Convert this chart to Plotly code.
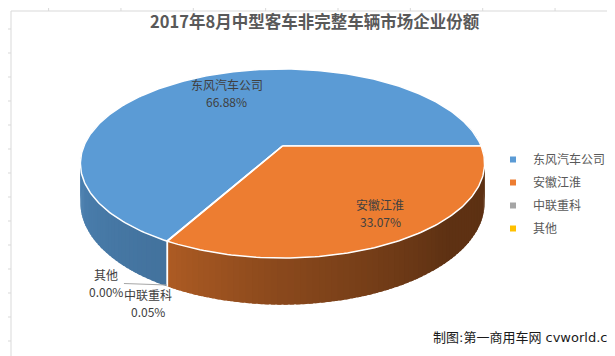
import numpy as np
import plotly.graph_objects as go

# ---------------- data ----------------
companies = ["东风汽车公司", "安徽江淮", "中联重科", "其他"]
shares = [66.88, 33.07, 0.05, 0.00]          # percent
title_text = "2017年8月中型客车非完整车辆市场企业份额"
credit_text = "制图:第一商用车网 cvworld.cn"

# ---------------- style ----------------
W, H = 615, 356
FONT = "Noto Sans CJK SC, Noto Sans, sans-serif"
CREDIT_FONT = "DejaVu Sans, Noto Sans CJK SC, sans-serif"
top_colors = ["#5B9BD5", "#ED7D31", "#A5A5A5", "#FFC000"]
CX, CY = 274.5, 138.0      # pie apex (pixels)
AX, BY = 198.6, 91.3       # pie radii on screen
P = 0.185                  # perspective strength
THICK = 38.0               # pie thickness
FIRST_SLICE_DEG = 119.2    # angle of first slice (clockwise from 3 o'clock)
LABEL_R = [0.61, 0.84]     # radius of inside labels for big slices
GRID = "#D9D9D9"
TDY = -9.0                 # vertical text correction for the CJK font metrics


def proj(r, deg, drop=0.0):
    t = np.radians(deg)
    u = r * np.cos(t)
    v = r * np.sin(t)
    d = 1 - P * v
    return CX + AX * u / d, CY + BY * v / d + drop / d


def shade(hex_color, f):
    h = hex_color.lstrip("#")
    r, g, b = (int(h[i:i + 2], 16) for i in (0, 2, 4))
    return "rgb(%d,%d,%d)" % (r * f, g * f, b * f)


def wall_factor(deg):
    a = ((deg + 90) % 360) - 90
    return float(np.interp(a, [-90, 0, 45, 90, 120, 180, 270],
                           [0.39, 0.39, 0.40, 0.58, 0.74, 0.85, 0.85]))


total = sum(shares)
starts, ends = [], []
a = FIRST_SLICE_DEG
for s in shares:
    starts.append(a)
    a += 360.0 * s / total
    ends.append(a)

fig = go.Figure()

# ---- side walls (sorted back to front) ----
segments = []
for i, s in enumerate(shares):
    span = ends[i] - starts[i]
    if span <= 0:
        continue
    n = max(1, int(np.ceil(span / 1.5)))
    angs = np.linspace(starts[i], ends[i], n + 1)
    for k in range(n):
        a0, a1 = angs[k], angs[k + 1]
        mid = 0.5 * (a0 + a1)
        if np.sin(np.radians(mid)) < -0.35:
            continue
        # small overlap inside the slice to hide seams
        b0 = max(starts[i], a0 - 0.5)
        b1 = min(ends[i], a1 + 0.5)
        segments.append((np.sin(np.radians(mid)), i, b0, b1, mid))
segments.sort(key=lambda t: t[0])
for _, i, a0, a1, mid in segments:
    x0, y0 = proj(1, a0)
    x1, y1 = proj(1, a1)
    x2, y2 = proj(1, a1, THICK)
    x3, y3 = proj(1, a0, THICK)
    col = shade(top_colors[i], wall_factor(mid))
    fig.add_trace(go.Scatter(x=[x0, x1, x2, x3, x0], y=[y0, y1, y2, y3, y0],
                             mode="none", fill="toself", fillcolor=col,
                             hoverinfo="skip", showlegend=False))

# white edges on the wall at visible slice boundaries
for i, s in enumerate(shares):
    if s <= 0:
        continue
    ang = starts[i]
    if np.sin(np.radians(ang)) > 0.2:
        xa, ya = proj(1, ang)
        xb, yb = proj(1, ang, THICK)
        fig.add_trace(go.Scatter(x=[xa, xb], y=[ya, yb], mode="lines",
                                 line=dict(color="white", width=1.2),
                                 hoverinfo="skip", showlegend=False))

# ---- top face ----
for i, s in enumerate(shares):
    span = ends[i] - starts[i]
    if span <= 0:
        continue
    angs = np.linspace(starts[i], ends[i], max(2, int(np.ceil(span)) + 1))
    xs, ys = proj(1, angs)
    fig.add_trace(go.Scatter(x=[CX] + list(xs) + [CX], y=[CY] + list(ys) + [CY],
                             mode="lines", fill="toself", fillcolor=top_colors[i],
                             line=dict(color="white", width=1.5),
                             hoverinfo="skip", showlegend=False))

# ---- legend entries ----
for i, name in enumerate(companies):
    fig.add_trace(go.Scatter(x=[None], y=[None], mode="markers", name=name,
                             legendgroup=name,
                             marker=dict(symbol="square", size=6, color=top_colors[i])))


def label(x, y, text, size=12, color="#404040", **kw):
    return dict(x=x, y=y + TDY, text=text, showarrow=False,
                font=dict(size=size, color=color, family=kw.pop("family", FONT)), **kw)


annotations = []
# big slice labels
for i in range(2):
    mid = 0.5 * (starts[i] + ends[i])
    lx, ly = proj(LABEL_R[i], mid)
    annotations.append(label(lx, ly - 8.5, companies[i]))
    annotations.append(label(lx, ly + 8.5, "%.2f%%" % shares[i]))

# small slice labels (outside, near lower-left)
mid2 = 0.5 * (starts[2] + ends[2])
mid3 = 0.5 * (starts[3] + ends[3])
ax2, ay2 = proj(1, mid2, THICK)
ax3, ay3 = proj(1, mid3, THICK * 0.97)
annotations.append(label(ax2 - 19, ay2 + 17, companies[2]))
annotations.append(label(ax2 - 19, ay2 + 34, "%.2f%%" % shares[2]))
annotations.append(label(ax3 - 61, ay3 - 2, companies[3]))
annotations.append(label(ax3 - 61, ay3 + 15, "%.2f%%" % shares[3]))
fig.add_trace(go.Scatter(x=[ax3 - 43, ax3], y=[ay3 - 1.5, ay3], mode="lines",
                         line=dict(color="#A6A6A6", width=1),
                         hoverinfo="skip", showlegend=False))

# title and credit
annotations.append(label(307, 22, "<b>%s</b>" % title_text, size=16.5, color="#595959"))
annotations.append(label(610, 338, credit_text, size=13, color="#1A1A1A",
                         family=CREDIT_FONT, xanchor="right",
                         bgcolor="white", borderpad=1))

# ---- spreadsheet background grid + chart border ----
shapes = [dict(type="rect", x0=3, y0=3, x1=611, y1=349, xref="x", yref="y",
               line=dict(color=GRID, width=1), fillcolor="rgba(0,0,0,0)", layer="below")]
for k in range(8):
    gx = 40.6 + 72.35 * k
    shapes.append(dict(type="line", x0=gx, x1=gx, y0=0, y1=3, xref="x", yref="y",
                       line=dict(color=GRID, width=1), layer="below"))
    shapes.append(dict(type="line", x0=gx, x1=gx, y0=349, y1=356, xref="x", yref="y",
                       line=dict(color=GRID, width=1), layer="below"))
for k in range(14):
    gy = 21 + 24 * k
    shapes.append(dict(type="line", x0=0, x1=3, y0=gy, y1=gy, xref="x", yref="y",
                       line=dict(color=GRID, width=1), layer="below"))
    shapes.append(dict(type="line", x0=611, x1=615, y0=gy, y1=gy, xref="x", yref="y",
                       line=dict(color=GRID, width=1), layer="below"))

fig.update_layout(
    width=W, height=H,
    margin=dict(l=0, r=0, t=0, b=0),
    paper_bgcolor="white", plot_bgcolor="white",
    font=dict(family=FONT),
    xaxis=dict(range=[0, W], visible=False, fixedrange=True),
    yaxis=dict(range=[H, 0], visible=False, fixedrange=True),
    showlegend=True,
    legend=dict(x=485 / W, y=1 - 137 / H, xanchor="left", yanchor="top",
                font=dict(size=12, color="#595959", family=FONT),
                itemwidth=30, traceorder="grouped", tracegroupgap=4,
                bgcolor="rgba(0,0,0,0)"),
    annotations=annotations,
    shapes=shapes,
)

fig.write_html("out.html")
